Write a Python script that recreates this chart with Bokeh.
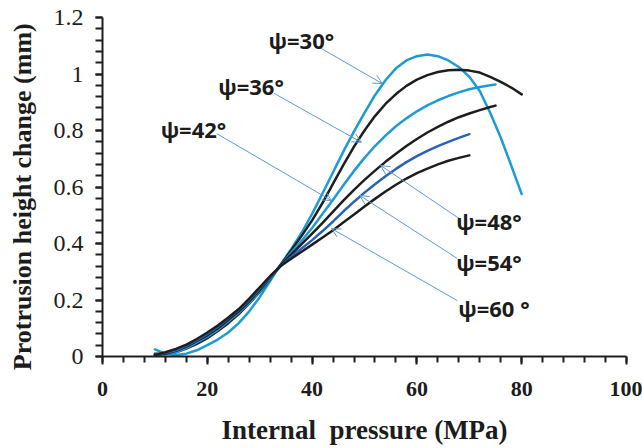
from bokeh.plotting import figure
from bokeh.models import FixedTicker, Label, Arrow, OpenHead, Range1d
from bokeh.embed import file_html
from bokeh.resources import INLINE

# ---- data ----
x_10_80 = [10, 12, 14, 16, 18, 20, 22, 24, 26, 28, 30, 32, 34, 36, 38, 40, 42, 44,
           46, 48, 50, 52, 54, 56, 58, 60, 62, 64, 66, 68, 70, 72, 74, 76, 78, 80]
x_10_75 = [10, 12, 14, 16, 18, 20, 22, 24, 26, 28, 30, 32, 34, 36, 38, 40, 42, 44,
           46, 48, 50, 52, 54, 56, 58, 60, 62, 64, 66, 68, 70, 72, 74, 75]
x_10_70 = [10, 12, 14, 16, 18, 20, 22, 24, 26, 28, 30, 32, 34, 36, 38, 40, 42, 44,
           46, 48, 50, 52, 54, 56, 58, 60, 62, 64, 66, 68, 70]

psi30 = [0.025, 0.010, 0.005, 0.010, 0.022, 0.040, 0.060, 0.085, 0.118, 0.160, 0.210, 0.268,
         0.325, 0.380, 0.438, 0.505, 0.578, 0.652, 0.727, 0.797, 0.862, 0.925, 0.978, 1.020,
         1.048, 1.063, 1.069, 1.063, 1.048, 1.025, 0.990, 0.940, 0.862, 0.775, 0.676, 0.575]
psi36 = [0.010, 0.010, 0.015, 0.028, 0.045, 0.065, 0.090, 0.118, 0.150, 0.188, 0.228, 0.274,
         0.325, 0.375, 0.427, 0.482, 0.544, 0.612, 0.679, 0.743, 0.800, 0.851, 0.894, 0.929,
         0.958, 0.980, 0.996, 1.007, 1.013, 1.015, 1.012, 1.005, 0.990, 0.972, 0.952, 0.928]
psi42 = [0.005, 0.008, 0.015, 0.030, 0.050, 0.070, 0.095, 0.125, 0.155, 0.190, 0.230, 0.275,
         0.323, 0.367, 0.410, 0.455, 0.505, 0.555, 0.607, 0.657, 0.703, 0.745, 0.782, 0.815,
         0.843, 0.868, 0.889, 0.907, 0.922, 0.935, 0.946, 0.954, 0.960, 0.963]
psi48 = [0.005, 0.010, 0.020, 0.035, 0.055, 0.075, 0.100, 0.130, 0.160, 0.195, 0.235, 0.280,
         0.323, 0.361, 0.398, 0.435, 0.473, 0.513, 0.553, 0.590, 0.625, 0.658, 0.689, 0.718,
         0.745, 0.770, 0.793, 0.813, 0.831, 0.847, 0.860, 0.872, 0.883, 0.888]
psi54 = [0.005, 0.012, 0.022, 0.038, 0.058, 0.080, 0.105, 0.135, 0.165, 0.200, 0.240, 0.282,
         0.320, 0.352, 0.382, 0.412, 0.444, 0.478, 0.514, 0.548, 0.580, 0.610, 0.638, 0.664,
         0.688, 0.709, 0.728, 0.745, 0.760, 0.774, 0.787]
psi60 = [0.005, 0.015, 0.027, 0.042, 0.062, 0.085, 0.110, 0.138, 0.168, 0.205, 0.245, 0.285,
         0.320, 0.346, 0.371, 0.396, 0.421, 0.447, 0.475, 0.503, 0.531, 0.558, 0.584, 0.608,
         0.630, 0.649, 0.665, 0.680, 0.693, 0.703, 0.712]

series_labels = ["ψ=30°", "ψ=36°", "ψ=42°", "ψ=48°", "ψ=54°", "ψ=60 °"]
x_ticks = [0, 20, 40, 60, 80, 100]
y_ticks = [0, 0.2, 0.4, 0.6, 0.8, 1, 1.2]
y_tick_labels = {0: "0", 1: "1"}

# ---- styling / layout ----
LIGHT = "#1e9bd7"
DARK = "#2a62b8"
BLACK = "#1e1e1e"
ARROW = "#5b9bd5"
TXT = "#1c1c1c"

p = figure(width=642, height=448, x_range=Range1d(0, 100), y_range=Range1d(0, 1.2),
           output_backend="svg", toolbar_location=None,
           min_border_left=102, min_border_right=16, min_border_top=17, min_border_bottom=92)
p.outline_line_color = None
p.xgrid.grid_line_color = None
p.ygrid.grid_line_color = None
p.background_fill_color = "white"
p.border_fill_color = "white"

for ax in (p.xaxis[0], p.yaxis[0]):
    ax.axis_line_color = BLACK
    ax.axis_line_width = 2
    ax.major_tick_line_color = BLACK
    ax.major_tick_line_width = 2
    ax.minor_tick_line_color = BLACK
    ax.minor_tick_line_width = 2
    ax.major_tick_in = 0
    ax.minor_tick_in = 0
    ax.major_label_text_color = TXT
    ax.major_label_text_font = "Liberation Serif"
    ax.axis_label_text_font = "Liberation Serif"
    ax.axis_label_text_font_style = "bold"
    ax.axis_label_text_color = TXT

p.xaxis.ticker = FixedTicker(ticks=x_ticks, minor_ticks=[4 * i for i in range(26)])
p.xaxis.major_tick_out = 8
p.xaxis.minor_tick_out = 6
p.xaxis.major_label_text_font_size = "22px"
p.xaxis.major_label_text_font_style = "bold"
p.xaxis.major_label_standoff = 17
p.xaxis.axis_label = "Internal\u00a0 pressure (MPa)"
p.xaxis.axis_label_text_font_size = "27px"
p.xaxis.axis_label_standoff = 16

p.yaxis.ticker = FixedTicker(ticks=y_ticks, minor_ticks=[0.04 * i for i in range(31)])
p.yaxis.major_tick_out = 7
p.yaxis.minor_tick_out = 7
p.yaxis.major_label_text_font_size = "24px"
p.yaxis.major_label_standoff = 12
p.yaxis.major_label_overrides = y_tick_labels
p.yaxis.axis_label = "Protrusion height change (mm)" + "\u00a0" * 3
p.yaxis.axis_label_text_font_size = "26px"
p.yaxis.axis_label_standoff = 14

xs = [x_10_80, x_10_80, x_10_75, x_10_75, x_10_70, x_10_70]
ys = [psi30, psi36, psi42, psi48, psi54, psi60]
colors = [LIGHT, BLACK, LIGHT, BLACK, DARK, BLACK]
for xv, yv, c in zip(xs, ys, colors):
    p.line(xv, yv, line_color=c, line_width=2.5, line_join="round", line_cap="round")

# annotation positions (data coordinates)
label_pos = [(31.7, 1.119), (22.1, 0.959), (11.1, 0.807), (67.5, 0.481), (67.5, 0.333), (67.9, 0.173)]
arrow_pos = [((41.4, 1.094), (53.4, 0.966)),
             ((32.8, 0.931), (49.4, 0.758)),
             ((21.8, 0.789), (43.7, 0.552)),
             ((68.1, 0.488), (53.1, 0.676)),
             ((67.7, 0.347), (49.1, 0.570)),
             ((67.7, 0.198), (43.7, 0.453))]

for (s, e) in arrow_pos:
    p.add_layout(Arrow(end=OpenHead(size=9, line_color=ARROW, line_width=1),
                       x_start=s[0], y_start=s[1], x_end=e[0], y_end=e[1],
                       line_color=ARROW, line_width=1))

for txt, (lx, ly) in zip(series_labels, label_pos):
    p.add_layout(Label(x=lx, y=ly, text=txt, text_align="left", text_baseline="middle",
                       text_font="Open Sans", text_font_style="bold", text_font_size="22px",
                       text_color=TXT))

open("out.html", "w").write(file_html(p, INLINE))
